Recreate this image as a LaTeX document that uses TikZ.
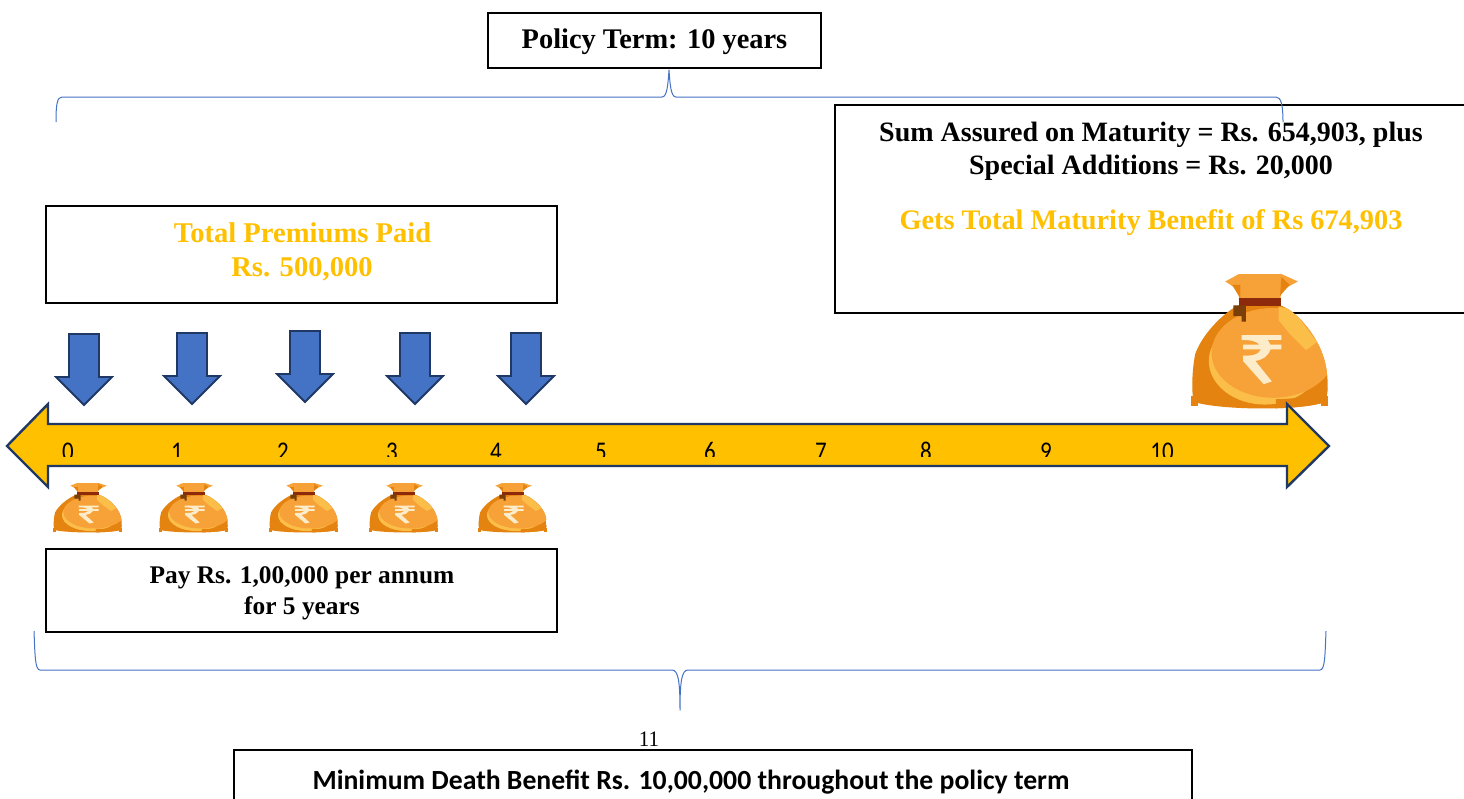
\documentclass[tikz,border=0pt]{standalone}
\usepackage{fontspec}
\setmainfont{Liberation Serif}
\newfontfamily\calfont{Carlito}
\definecolor{amber}{HTML}{FFC000}
\definecolor{navy}{HTML}{1F3864}
\definecolor{blockblue}{HTML}{4472C4}
\definecolor{bagdark}{HTML}{E4830F}
\definecolor{baglight}{HTML}{F7A238}
\definecolor{bagshine}{HTML}{FBBE48}
\definecolor{bagtie}{HTML}{8E2A0C}
\definecolor{bagtail}{HTML}{7A3F08}
\definecolor{bagcream}{HTML}{FDECC9}
\tikzset{
  x=1pt,y=-1pt,
  framebox/.style={draw=black,line width=2pt,fill=white,anchor=north west,inner sep=0pt,outer sep=0pt},
  boldtext/.style={font=\fontsize{#1}{#1}\selectfont\bfseries,inner sep=0pt,text=black},
  amberlabel/.style={font=\fontsize{#1}{#1}\selectfont\bfseries,inner sep=0pt,text=amber},
  ticklabel/.style={font=\calfont\fontsize{27}{27}\selectfont,inner sep=0pt,text=black,anchor=base,xscale=.85},
  bracket/.style={draw=blockblue,line width=1pt,line join=round},
  pics/payarrow/.style={code={
    \draw[fill=blockblue,draw=navy,line width=1.8pt,line join=miter]
      (-15,0) -- (15,0) -- (15,43) -- (28,43) -- (0,71) -- (-28,43) -- (-15,43) -- cycle;
  }},
  pics/moneybag/.style={code={
    % corner nubs
    \fill[bagdark] (0,90) rectangle (5,97);
    \fill[bagdark] (95,90) rectangle (100,97);
    % body with coin and shine inside it
    \begin{scope}
      \clip (35,23) .. controls (27,26) and (9,42) .. (3,59)
        .. controls (1,70) and (0,85) .. (2,94) .. controls (20,100) and (80,101) .. (98,94)
        .. controls (101,85) and (100,70) .. (96,59) .. controls (90,42) and (75,26) .. (65,23) -- cycle;
      \fill[bagdark] (0,20) rectangle (100,101);
      \fill[bagshine] (54,64) ellipse (41 and 32);
      \fill[baglight] (60,58) ellipse (45 and 33);
      \fill[bagshine] (64,24) -- (74,26) -- (92,50) -- (84,56) -- (72,44) -- (64,34) -- cycle;
      \fill[bagdark] (62,100) -- (100,100) -- (100,84) .. controls (90,90) and (75,92) .. (62,92) -- cycle;
    \end{scope}
    % neck flaps
    \fill[baglight] (25,5.5) -- (35,0) -- (66,0) -- (78,5.5) -- (66,12) -- (65,20) -- (35,20) -- (35,12) -- cycle;
    \fill[bagdark] (30,8) -- (36,8) -- (36,18) -- cycle;
    \fill[bagdark] (66,2) -- (72,8) -- (65,16) -- cycle;
    % tie and tails
    \fill[bagtie] (35,18) rectangle (66,23.5);
    \fill[bagtail] (31,23) -- (40,23) -- (40,35) -- (37,35) -- (37,31) -- (31,31) -- cycle;
    % rupee
    \fill[bagcream] (37,45) -- (66,45) -- (66,48.5) -- (56,48.5) -- (58,52) -- (66,52) -- (66,55.5) -- (58,55.5)
      .. controls (56,61) and (52,63) .. (47,64) -- (59,79) -- (53,81) -- (38,64) -- (38,60)
      .. controls (44,60) and (49,60) .. (51,55.5) -- (38,55.5) -- (38,52) -- (50,52)
      .. controls (48,49.5) and (44,48.5) .. (37,48.5) -- cycle;
  }}
}
\begin{document}
\begin{tikzpicture}
\clip (0,0) rectangle (1464,798);
\fill[white] (0,0) rectangle (1464,798);

% boxes
\node[framebox,minimum width=333pt,minimum height=55pt] (termbox) at (488,12.5) {};
\node[boldtext=28.4] (termtext) at (654.5,42) {Policy Term: 10 years};

\node[framebox,minimum width=640pt,minimum height=208pt] (sumbox) at (835,104.5) {};
\node[boldtext=28] (sumone) at (1151,135) {Sum Assured on Maturity = Rs. 654,903, plus};
\node[boldtext=28] (sumtwo) at (1151,168) {Special Additions = Rs. 20,000};
\node[amberlabel=28.3] (sumthree) at (1151,223) {Gets Total Maturity Benefit of Rs 674,903};

\node[framebox,minimum width=511pt,minimum height=97pt] (totalbox) at (46,205.5) {};
\node[amberlabel=28.6] (totalone) at (302.5,233) {Total Premiums Paid};
\node[amberlabel=28.6] (totaltwo) at (302,269) {Rs. 500,000};

\node[framebox,minimum width=511pt,minimum height=83pt] (paybox) at (46,548.5) {};
\node[boldtext=25.4] (payone) at (302,578) {Pay Rs. 1,00,000 per annum};
\node[boldtext=25.4] (paytwo) at (302,608) {for 5 years};

\node[framebox,minimum width=958pt,minimum height=70pt] (deathbox) at (234,749.5) {};
\node[font=\calfont\fontsize{27.7}{27.7}\selectfont\bfseries,inner sep=0pt] (deathtext) at (691,782) {Minimum Death Benefit Rs. 10,00,000 throughout the policy term};

\node[font=\fontsize{21}{21}\selectfont,inner sep=0pt,yscale=1.05] (pagenum) at (649,739) {11};

% payment arrows
\pic at (84,334) {payarrow};
\pic at (192,333) {payarrow};
\pic at (305,331) {payarrow};
\pic at (415,333) {payarrow};
\pic at (526,333) {payarrow};

% bags
\pic[xscale=.69,yscale=.5] at (53,483) {moneybag};
\pic[xscale=.69,yscale=.5] at (159,483) {moneybag};
\pic[xscale=.69,yscale=.5] at (269,483) {moneybag};
\pic[xscale=.69,yscale=.5] at (369,483) {moneybag};
\pic[xscale=.69,yscale=.5] at (478,483) {moneybag};
\pic[xscale=1.37,yscale=1.36] at (1191,274) {moneybag};

% timeline
\draw[fill=amber,draw=navy,line width=2.4pt,line join=miter]
  (7,446) -- (48,404) -- (48,424) -- (1287,424) -- (1287,404) -- (1329,446)
  -- (1287,487) -- (1287,466) -- (48,466) -- (48,487) -- cycle;
\begin{scope}
  \clip (0,430) rectangle (1330,456);
  \node[ticklabel] (t0) at (68,460) {0};
  \node[ticklabel] (t1) at (177,460) {1};
  \node[ticklabel] (t2) at (283,460) {2};
  \node[ticklabel] (t3) at (392,460) {3};
  \node[ticklabel] (t4) at (496,460) {4};
  \node[ticklabel] (t5) at (601,460) {5};
  \node[ticklabel] (t6) at (710,460) {6};
  \node[ticklabel] (t7) at (821,460) {7};
  \node[ticklabel] (t8) at (926,460) {8};
  \node[ticklabel] (t9) at (1046,460) {9};
  \node[ticklabel] (t10) at (1162,460) {10};
\end{scope}

% braces
\draw[bracket] (56,122) .. controls (56,105) and (57,97) .. (62,97) -- (662,97)
  .. controls (667,97) and (668,85) .. (669,70) .. controls (670,85) and (671,97) .. (676,97)
  -- (1276,97) .. controls (1281,97) and (1283,105) .. (1283,122);
\draw[bracket] (34,631) .. controls (35,655) and (35,670) .. (40,670) -- (672,670)
  .. controls (678,670) and (680,680) .. (680,710) .. controls (680,680) and (682,670) .. (688,670)
  -- (1320,670) .. controls (1325,670) and (1325,655) .. (1326,631);
\end{tikzpicture}
\end{document}
